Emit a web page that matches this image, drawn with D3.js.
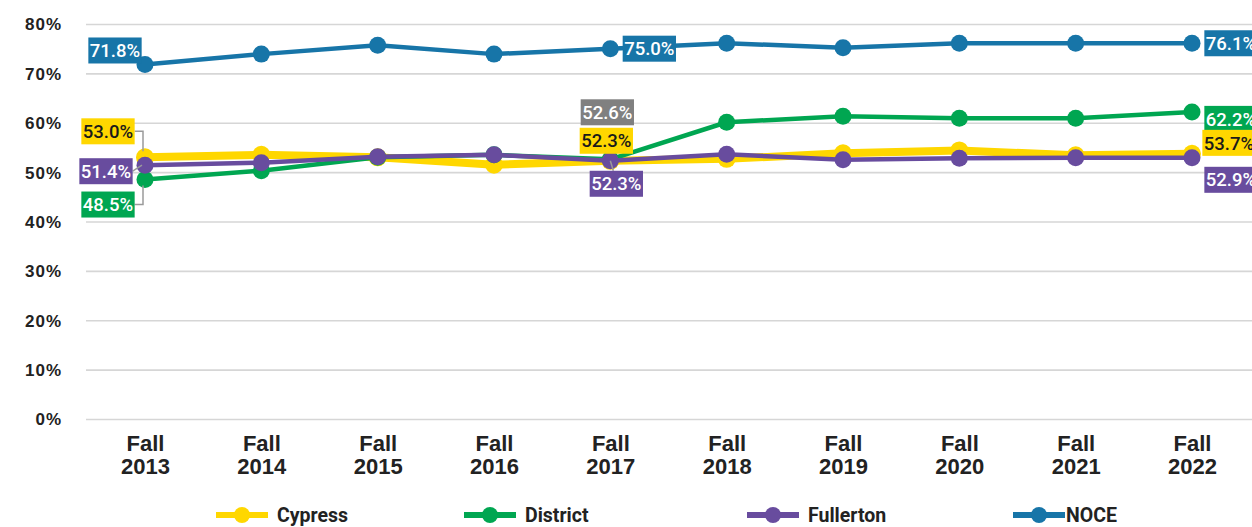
<!DOCTYPE html>
<html>
<head>
<meta charset="utf-8">
<script src="https://cdn.jsdelivr.net/npm/d3@7"></script>
<style>
	body { margin:0; background:#fff; }
	svg { display:block; font-family: Roboto, "Liberation Sans", Arial, sans-serif; }
</style>
</head>
<body>
<div id="chart"></div>
<script>
// data
var years = ["2013","2014","2015","2016","2017","2018","2019","2020","2021","2022"];
var cypress   = [53.0, 53.5, 53.0, 51.5, 52.3, 52.7, 53.8, 54.4, 53.4, 53.7];
var district  = [48.5, 50.3, 53.0, 53.5, 52.6, 60.1, 61.3, 60.9, 60.9, 62.2];
var fullerton = [51.4, 51.9, 53.1, 53.5, 52.3, 53.6, 52.5, 52.8, 52.9, 52.9];
var noce      = [71.8, 73.9, 75.7, 73.9, 75.0, 76.1, 75.2, 76.1, 76.1, 76.1];
var yTicks = [0, 10, 20, 30, 40, 50, 60, 70, 80];
var seriesNames = ["Cypress", "District", "Fullerton", "NOCE"];

var colors = {Cypress:"#ffd700", District:"#00a651", Fullerton:"#684c9e", NOCE:"#1775a8"};

var series = [
	{name:"Cypress",   values:cypress,   width:8,   r:9},
	{name:"District",  values:district,  width:4.5, r:8.5},
	{name:"Fullerton", values:fullerton, width:4.5, r:8.5},
	{name:"NOCE",      values:noce,      width:4.5, r:8.5}
];

// which points get a value box, and where it sits from the point
var labels = [
	{s:"NOCE",      i:0, dx:-30, dy:-14, leader:null},
	{s:"Cypress",   i:0, dx:-37, dy:-26, leader:"elbow"},
	{s:"Fullerton", i:0, dx:-39, dy:6,   leader:"straight"},
	{s:"District",  i:0, dx:-37, dy:25,  leader:"elbow"},
	{s:"NOCE",      i:4, dx:39,  dy:0,   leader:null},
	{s:"District",  i:4, dx:-3,  dy:-47, leader:null, fill:"#808080"},
	{s:"Cypress",   i:4, dx:-4,  dy:-20, leader:null},
	{s:"Fullerton", i:4, dx:6,   dy:23,  leader:"down"},
	{s:"NOCE",      i:9, dx:39,  dy:0,   leader:null},
	{s:"District",  i:9, dx:39,  dy:7,   leader:null},
	{s:"Cypress",   i:9, dx:37,  dy:-11, leader:null},
	{s:"Fullerton", i:9, dx:39,  dy:22,  leader:null}
];

var legendX = [216, 464, 747, 1013];

var width = 1252, height = 527;

var svg = d3.select("#chart").append("svg")
	.attr("width", width).attr("height", height);

var x = d3.scalePoint()
	.domain(years)
	.range([145, 1192]);

var y = d3.scaleLinear()
	.domain([0, 80])
	.range([419, 24]);

// grid
var yAxis = d3.axisLeft(y)
	.tickValues(yTicks)
	.tickSize(-(width - 86))
	.tickFormat(function(d){ return d + "%"; });

var gy = svg.append("g")
	.attr("class","axisy")
	.attr("transform","translate(86,0)")
	.call(yAxis);
gy.select(".domain").remove();
gy.selectAll(".tick line")
	.attr("stroke","#d6d6d6")
	.attr("stroke-width",1.6);
gy.selectAll(".tick text")
	.attr("x",-24)
	.attr("dy","0.35em")
	.style("font-size","17px")
	.style("font-weight","bold")
	.style("letter-spacing","1px")
	.style("fill","#222");

// x axis labels, two lines
var xAxis = d3.axisBottom(x).tickSize(0).tickFormat("");
var gx = svg.append("g")
	.attr("class","axisx")
	.attr("transform","translate(0,419)")
	.call(xAxis);
gx.select(".domain").remove();
gx.selectAll(".tick").each(function(d){
	var t = d3.select(this).append("text")
		.attr("text-anchor","middle")
		.style("font-size","22px")
		.style("font-weight","bold")
		.style("fill","#222");
	t.append("tspan").attr("x",0).attr("y",32).text("Fall");
	t.append("tspan").attr("x",0).attr("y",55).text(d);
});

var line = d3.line()
	.x(function(d,i){ return x(years[i]); })
	.y(function(d){ return y(d); });

var gs = svg.selectAll(".serie")
	.data(series)
	.enter().append("g")
	.attr("class","serie");

gs.append("path")
	.attr("d", function(d){ return line(d.values); })
	.attr("fill","none")
	.attr("stroke", function(d){ return colors[d.name]; })
	.attr("stroke-width", function(d){ return d.width; })
	.attr("stroke-linejoin","round");

gs.each(function(s){
	d3.select(this).selectAll("circle")
		.data(s.values)
		.enter().append("circle")
		.attr("cx", function(d,i){ return x(years[i]); })
		.attr("cy", function(d){ return y(d); })
		.attr("r", s.r)
		.attr("fill", colors[s.name]);
});

// value labels
var valuesOf = {Cypress:cypress, District:district, Fullerton:fullerton, NOCE:noce};
var gl = svg.append("g").attr("class","labels");
var gLead = gl.append("g");
var boxH = 26;

labels.forEach(function(l){
	var v = valuesOf[l.s][l.i];
	var px = x(years[l.i]), py = y(v);
	var cx = px + l.dx, cy = py + l.dy;
	var g = gl.append("g");
	var rect = g.append("rect");
	var txt = g.append("text")
		.attr("x", cx).attr("y", cy)
		.attr("dy","0.36em")
		.attr("text-anchor","middle")
		.style("font-size","18.5px")
		.style("font-weight","500")
		.style("fill", l.s == "Cypress" ? "#1a1a1a" : "#fff")
		.text(v.toFixed(1) + "%");
	var w = txt.node().getComputedTextLength() + 3;
	rect.attr("x", cx - w/2).attr("y", cy - boxH/2)
		.attr("width", w).attr("height", boxH)
		.attr("fill", l.fill || colors[l.s]);

	var pts = null;
	if(l.leader == "elbow"){
		pts = [[cx + w/2, cy], [px - 2, cy], [px - 2, py + (cy < py ? -6 : 6)]];
	}else if(l.leader == "straight"){
		pts = [[cx + w/2, cy], [px - 3, py]];
	}else if(l.leader == "down"){
		pts = [[px, py], [px + 3, cy - boxH/2]];
	}
	if(pts){
		gLead.append("path")
			.attr("d", d3.line()(pts))
			.attr("fill","none")
			.attr("stroke","#9a9a9a")
			.attr("stroke-width",1.5);
	}
});

// legend
var lg = svg.append("g").attr("class","legend")
	.attr("transform","translate(0,515)");

seriesNames.forEach(function(n, i){
	var lx = legendX[i];
	lg.append("line")
		.attr("x1", lx).attr("x2", lx + 52)
		.attr("y1", 0).attr("y2", 0)
		.attr("stroke", colors[n])
		.attr("stroke-width", 6);
	lg.append("circle")
		.attr("cx", lx + 26).attr("cy", 0).attr("r", 8)
		.attr("fill", colors[n]);
	lg.append("text")
		.attr("x", lx + (n == "NOCE" ? 53 : 61))
		.attr("y", 0).attr("dy","0.36em")
		.style("font-size","19.5px")
		.style("font-weight","bold")
		.style("fill","#222")
		.text(n);
});
</script>
</body>
</html>
